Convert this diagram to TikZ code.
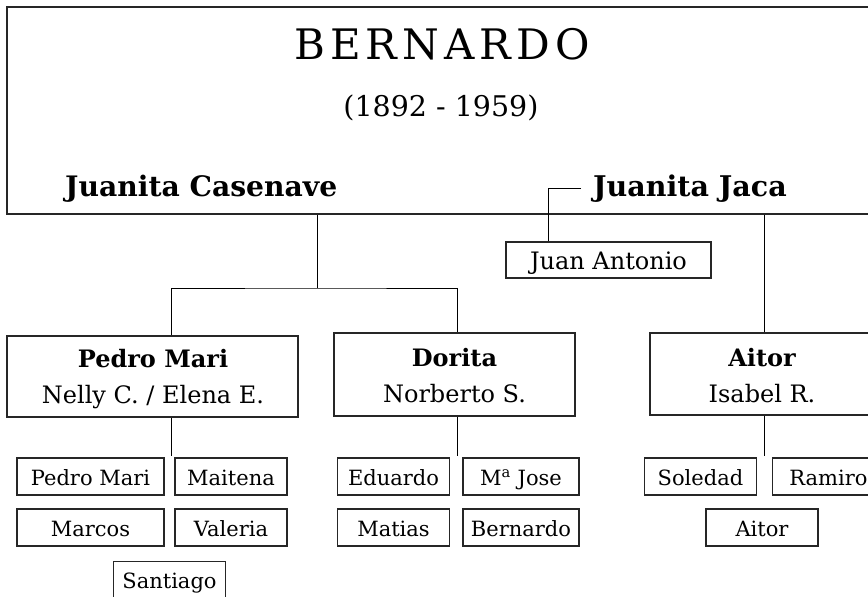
\documentclass[tikz,border=0pt]{standalone}
\usepackage{fontspec}
\setmainfont{DejaVu Serif}
\newfontfamily\titlefont[LetterSpace=12]{DejaVu Serif}
\begin{document}
\begin{tikzpicture}[x=1pt,y=-1pt,
  box/.style={draw=black!85,line width=1.1pt,rectangle,inner sep=0pt},
  kid/.style={box,minimum height=37pt,text height=17pt,text depth=0pt,font=\fontsize{21}{24}\selectfont},
  wl/.style={box,minimum width=147pt},
  wm/.style={box,minimum width=112pt},
  wr/.style={box,minimum width=116pt},
  lbl/.style={anchor=base,inner sep=0pt},
  conn/.style={draw=black,line width=0.9pt}]
\useasboundingbox (0,0) rectangle (868,597);
\clip (0,0) rectangle (868,597);
% main box
\node[box,line width=1.3pt,minimum width=867pt,minimum height=207pt] (main) at (440.5,110.5) {};
\node[lbl] (title) at (442,59) {\titlefont\fontsize{42}{46}\selectfont BERNARDO};
\node[lbl] (years) at (441,116) {\fontsize{28.5}{32}\selectfont (1892 - 1959)};
\node[lbl,anchor=base west] (s1) at (65,196) {\fontsize{28.2}{32}\selectfont\bfseries Juanita Casenave};
\node[lbl,anchor=base west] (s2) at (593,196) {\fontsize{28.5}{32}\selectfont\bfseries Juanita Jaca};
% Juan Antonio
\node[box,minimum width=205pt,minimum height=36pt,text height=18pt,text depth=0pt,font=\fontsize{24}{28}\selectfont] (ja) at (608.5,260) {Juan Antonio};
% children boxes
\node[box,minimum width=291pt,minimum height=81pt] (pm) at (152.5,376.5) {};
\node[lbl] (pmn) at (153,367) {\fontsize{24}{28}\selectfont\bfseries Pedro Mari};
\node[lbl] (pms) at (153,403) {\fontsize{24}{28}\selectfont Nelly C. / Elena E.};
\node[box,minimum width=241pt,minimum height=83pt] (do) at (454.5,374.5) {};
\node[lbl] (don) at (454.5,366) {\fontsize{24}{28}\selectfont\bfseries Dorita};
\node[lbl] (dos) at (454.5,402) {\fontsize{24}{28}\selectfont Norberto S.};
\node[box,minimum width=224pt,minimum height=82pt] (ai) at (762,374) {};
\node[lbl] (ain) at (762,366) {\fontsize{24}{28}\selectfont\bfseries Aitor};
\node[lbl] (ais) at (762,402) {\fontsize{24}{28}\selectfont Isabel R.};
% grandchildren
\node[kid,wl] (g1) at (90.5,476.5) {Pedro Mari};
\node[kid,wm] (g2) at (231,476.5) {Maitena};
\node[kid,wl] (g3) at (90.5,527.5) {Marcos};
\node[kid,wm] (g4) at (231,527.5) {Valeria};
\node[kid,wm] (g5) at (169.5,580) {Santiago};
\node[kid,wm] (g6) at (393.5,476.5) {Eduardo};
\node[kid,wr] (g7) at (521,476.5) {M\textsuperscript{a} Jose};
\node[kid,wm] (g8) at (393.5,527.5) {Matias};
\node[kid,wr] (g9) at (521,527.5) {Bernardo};
\node[kid,wm] (g10) at (700.5,476.5) {Soledad};
\node[kid,wm] (g11) at (828.5,476.5) {Ramiro};
\node[kid,wm] (g12) at (762,527.5) {Aitor};
% connector coordinates
\coordinate (x1) at (317,0);
\coordinate (xp) at (171,0);
\coordinate (xd) at (457,0);
\coordinate (xa) at (764,0);
\coordinate (j1) at (317,288);
\coordinate (b1) at (581,188);
\coordinate (b2) at (548,188);
\coordinate (e1) at (171,456);
\coordinate (e2) at (457,456);
\coordinate (e3) at (764,456);
% connectors
\draw[conn] (main.south -| x1) -- (j1);
\draw[conn] (pm.north -| xp) |- (j1) -| (do.north -| xd);
\draw[conn] (b1) -- (b2) -- (ja.north -| b2);
\draw[conn] (main.south -| xa) -- (ai.north -| xa);
\draw[conn] (pm.south -| e1) -- (e1);
\draw[conn] (do.south -| e2) -- (e2);
\draw[conn] (ai.south -| e3) -- (e3);
\end{tikzpicture}
\end{document}
